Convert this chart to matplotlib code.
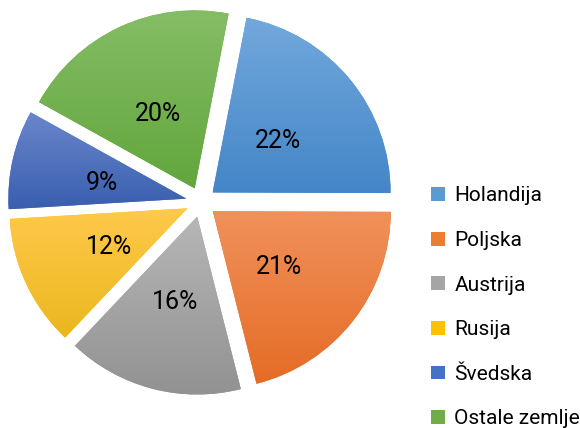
import matplotlib.pyplot as plt
import numpy as np
from matplotlib.colors import LinearSegmentedColormap

labels = ['Holandija', 'Poljska', 'Austrija', 'Rusija', 'Švedska', 'Ostale zemlje']
values = [22, 21, 16, 12, 9, 20]
colors = ['#5B9BD5', '#ED7D31', '#A5A5A5', '#FFC000', '#4472C4', '#70AD47']
tops = ['#72A8DC', '#F0915B', '#B6B6B6', '#FFC94A', '#6A86CC', '#85BD66']
bottoms = ['#4486C8', '#E56C26', '#929292', '#EBB71E', '#3A5FAE', '#62A63C']

plt.rcParams['font.family'] = ['Roboto', 'DejaVu Sans']

fig = plt.figure(figsize=(5.8, 4.28), dpi=100)
ax = fig.add_axes([0, 0, 1, 1])

r = 178
cx, cy = 201, 428 - 202
# explode is in data units here (pixels)
wedges, texts = ax.pie(values, radius=r, center=(cx, cy), startangle=79,
                       counterclock=False, colors=colors,
                       explode=[15] * len(values),
                       labels=[f'{v}%' for v in values], labeldistance=0.48,
                       textprops=dict(fontsize=18, color='black', ha='center', va='center'))

# vertical gradient fill in every slice
for w, t, b in zip(wedges, tops, bottoms):
    ext = w.get_path().get_extents()
    cmap = LinearSegmentedColormap.from_list('g', [b, t])
    grad = np.linspace(0, 1, 64).reshape(-1, 1)
    im = ax.imshow(grad, cmap=cmap, origin='lower', aspect='auto',
                   extent=(ext.x0, ext.x1, ext.y0, ext.y1), interpolation='bilinear',
                   zorder=w.get_zorder() + 0.1)
    im.set_clip_path(w)
for t in texts:
    x, y = t.get_position()
    t.set_position((x - 1, y - 3))
    t.set_zorder(5)

ax.set_xlim(0, 580)
ax.set_ylim(0, 428)
ax.set_aspect('equal')
ax.axis('off')

ax.legend(wedges, labels, loc='upper left', bbox_to_anchor=(423 / 580, 1 - 178 / 428),
          frameon=False, fontsize=15, labelspacing=1.23, handlelength=0.65,
          handleheight=0.65, handletextpad=0.45, borderaxespad=0)

fig.savefig('out.png', dpi=100)
